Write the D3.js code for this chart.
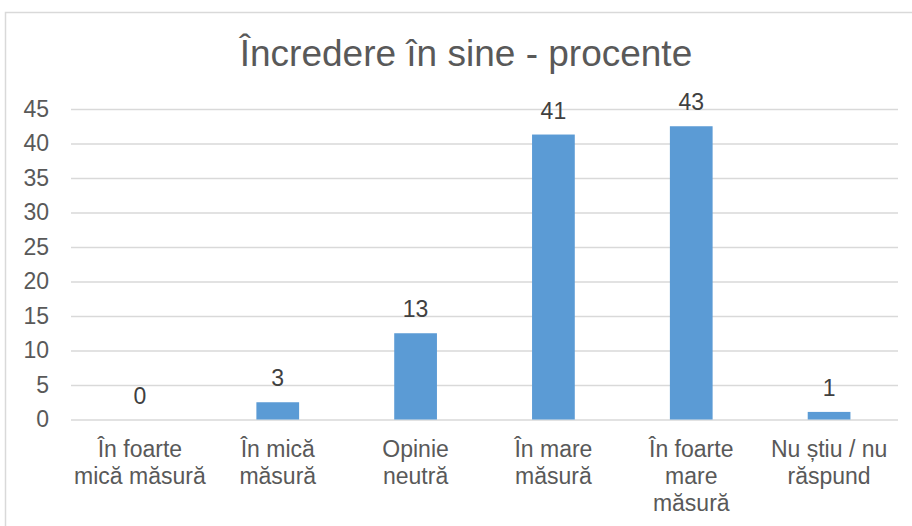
<!DOCTYPE html>
<html>
<head>
<meta charset="utf-8">
<script src="https://cdn.jsdelivr.net/npm/d3@7/dist/d3.min.js"></script>
<style>
  body { margin: 0; background: #fff; }
  svg { display: block; font-family: "Liberation Sans", Arial, sans-serif; }
</style>
</head>
<body>
<div id="chart"></div>
<script>
// data
const title = 'Încredere în sine - procente';
const categories = [
  ['În foarte', 'mică măsură'],
  ['În mică', 'măsură'],
  ['Opinie', 'neutră'],
  ['În mare', 'măsură'],
  ['În foarte', 'mare', 'măsură'],
  ['Nu știu / nu', 'răspund']
];
const values = [0, 2.5, 12.5, 41.3, 42.5, 1.1];
const yTicks = [0, 5, 10, 15, 20, 25, 30, 35, 40, 45];

const W = 912, H = 526;
const svg = d3.select('#chart').append('svg').attr('width', W).attr('height', H);

// chart frame (only left and top edges visible in the reference)
svg.append('rect').attr('x', 5.5).attr('y', 12.5).attr('width', W + 10).attr('height', H + 10)
  .attr('fill', '#fff').attr('stroke', '#d9d9d9').attr('stroke-width', 1.5);

svg.append('text').attr('x', 466).attr('y', 66).attr('text-anchor', 'middle')
  .attr('font-size', 37).attr('fill', '#595959').text(title);

const plotL = 71, plotR = 898, plotT = 109, plotB = 419.5;
const x = d3.scaleBand().domain(d3.range(categories.length)).range([plotL, plotR])
  .paddingInner(0.69).paddingOuter(0.345);
const y = d3.scaleLinear().domain([0, 45]).range([plotB, plotT]);

// gridlines
const grid = svg.append('g').attr('transform', `translate(${plotL},0)`)
  .call(d3.axisLeft(y).tickValues(yTicks).tickSize(-(plotR - plotL)).tickFormat(''));
grid.select('.domain').remove();
grid.selectAll('line').attr('stroke', '#d9d9d9').attr('stroke-width', 1.5);

// y tick labels
const yAxis = svg.append('g').attr('transform', `translate(${plotL},0)`)
  .call(d3.axisLeft(y).tickValues(yTicks).tickSize(0).tickPadding(22));
yAxis.select('.domain').remove();
yAxis.selectAll('text').attr('font-size', 23).attr('fill', '#595959')
  .attr('font-family', '"Liberation Sans", Arial, sans-serif');

// bars
svg.selectAll('rect.bar').data(values).join('rect').attr('class', 'bar')
  .attr('x', (d, i) => x(i)).attr('width', x.bandwidth())
  .attr('y', d => y(d)).attr('height', d => plotB - y(d))
  .attr('fill', '#5b9bd5');

// data labels
svg.selectAll('text.val').data(values).join('text').attr('class', 'val')
  .attr('x', (d, i) => x(i) + x.bandwidth() / 2).attr('y', d => y(d) - 16)
  .attr('text-anchor', 'middle').attr('font-size', 23).attr('fill', '#404040')
  .text(d => Math.round(d));

// category labels
const cat = svg.selectAll('text.cat').data(categories).join('text').attr('class', 'cat')
  .attr('text-anchor', 'middle').attr('font-size', 23).attr('fill', '#595959');
cat.each(function(lines, i) {
  const cx = x(i) + x.bandwidth() / 2;
  d3.select(this).selectAll('tspan').data(lines).join('tspan')
    .attr('x', cx).attr('y', (d, j) => 457 + j * 27).text(d => d);
});
</script>
</body>
</html>
